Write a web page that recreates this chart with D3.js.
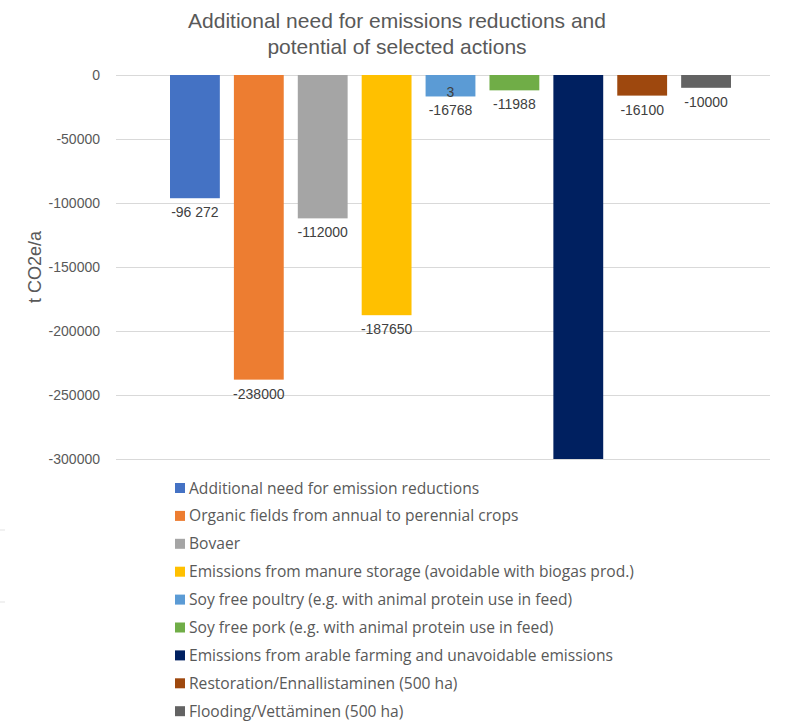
<!DOCTYPE html>
<html>
<head>
<meta charset="utf-8">
<script src="https://cdn.jsdelivr.net/npm/d3@7"></script>
<style>
  body { margin: 0; background: #fff; }
  svg { display: block; }
</style>
</head>
<body>
<div id="chart"></div>
<script>
"use strict";

const categories = [
    "Additional need for emission reductions",
    "Organic fields from annual to perennial crops",
    "Bovaer",
    "Emissions from manure storage (avoidable with biogas prod.)",
    "Soy free poultry (e.g. with animal protein use in feed)",
    "Soy free pork (e.g. with animal protein use in feed)",
    "Emissions from arable farming and unavoidable emissions",
    "Restoration/Ennallistaminen (500 ha)",
    "Flooding/Vettäminen (500 ha)"
];
const values = [-96272, -238000, -112000, -187650, -16768, -11988, -300000, -16100, -10000];
const valueLabels = ["-96 272", "-238000", "-112000", "-187650", "-16768", "-11988", "", "-16100", "-10000"];
const colors = ["#4472C4", "#ED7D31", "#A5A5A5", "#FFC000", "#5B9BD5", "#70AD47", "#002060", "#9E480E", "#636363"];
const yTicks = [0, -50000, -100000, -150000, -200000, -250000, -300000];

const width = 794, height = 728;
const plotLeft = 116, plotRight = 770, plotTop = 75, plotBottom = 459;

const svg = d3.select("#chart").append("svg")
    .attr("width", width)
    .attr("height", height);

const y = d3.scaleLinear().domain([0, -300000]).range([plotTop, plotBottom]);
const x = d3.scaleBand().domain(categories).range([170, 731])
    .paddingInner(0.22).paddingOuter(0);

// title
svg.append("text")
    .attr("x", 397).attr("y", 28)
    .attr("text-anchor", "middle")
    .style("font-family", "Liberation Sans, Arial, sans-serif")
    .style("font-size", "21px")
    .style("fill", "#595959")
    .selectAll("tspan")
    .data(["Additional need for emissions reductions and", "potential of selected actions"])
    .enter().append("tspan")
        .attr("x", 397)
        .attr("dy", (d, i) => i === 0 ? 0 : 26)
        .text(d => d);

// gridlines + tick labels
const yAxis = d3.axisLeft(y).tickValues(yTicks).tickSize(-(plotRight - plotLeft)).tickPadding(16)
    .tickFormat(d => d === 0 ? "0" : String(d));
const gAxis = svg.append("g")
    .attr("transform", `translate(${plotLeft},0)`)
    .call(yAxis);
gAxis.select(".domain").remove();
gAxis.selectAll(".tick line").attr("stroke", "#d9d9d9").attr("stroke-width", 1);
gAxis.selectAll(".tick text")
    .style("font-family", "Liberation Sans, Arial, sans-serif")
    .style("font-size", "14px")
    .style("fill", "#595959");

// axis title
svg.append("text")
    .attr("transform", `translate(41,${(plotTop + plotBottom) / 2}) rotate(-90)`)
    .attr("text-anchor", "middle")
    .style("font-family", "Liberation Sans, Arial, sans-serif")
    .style("font-size", "18px")
    .style("fill", "#595959")
    .text("t CO2e/a");

// bars
svg.append("g").selectAll("rect")
    .data(categories)
    .enter().append("rect")
        .attr("x", d => x(d))
        .attr("y", y(0))
        .attr("width", x.bandwidth())
        .attr("height", (d, i) => y(values[i]) - y(0))
        .attr("fill", (d, i) => colors[i]);

// value labels
svg.append("g").selectAll("text")
    .data(categories)
    .enter().append("text")
        .attr("x", d => x(d) + x.bandwidth() / 2)
        .attr("y", (d, i) => y(values[i]) + 19)
        .attr("text-anchor", "middle")
        .style("font-family", "Liberation Sans, Arial, sans-serif")
        .style("font-size", "14px")
        .style("fill", "#404040")
        .text((d, i) => valueLabels[i]);

// stray "3" label above the poultry value
svg.append("text")
    .attr("x", x(categories[4]) + x.bandwidth() / 2)
    .attr("y", y(values[4]) + 1)
    .attr("text-anchor", "middle")
    .style("font-family", "Liberation Sans, Arial, sans-serif")
    .style("font-size", "14px")
    .style("fill", "#404040")
    .text("3");

// legend
const legend = svg.append("g").selectAll("g")
    .data(categories)
    .enter().append("g")
        .attr("transform", (d, i) => `translate(175,${488 + i * 27.9})`);
legend.append("rect")
    .attr("x", 0).attr("y", -5)
    .attr("width", 10).attr("height", 10)
    .attr("fill", (d, i) => colors[i]);
legend.append("text")
    .attr("x", 14).attr("y", 5.5)
    .style("font-family", "Open Sans, sans-serif")
    .style("font-size", "15.6px")
    .style("fill", "#595959")
    .text(d => d);

// faint marks at the left edge
svg.append("g").selectAll("line")
    .data([530, 602])
    .enter().append("line")
        .attr("x1", 0).attr("x2", 5)
        .attr("y1", d => d).attr("y2", d => d)
        .attr("stroke", "#e3e3e3");
</script>
</body>
</html>
